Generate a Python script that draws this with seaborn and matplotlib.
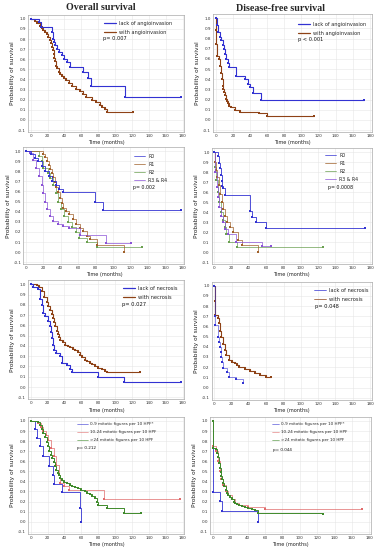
import matplotlib
matplotlib.use("Agg")
import matplotlib.pyplot as plt
import seaborn as sns
from matplotlib.lines import Line2D

# ---------------- data ----------------
# Panel 1: overall survival, angioinvasion
os_angio_lack_t = [0, 10, 12, 25, 26, 28, 29, 31, 34, 37, 40, 43, 46, 62, 68, 71, 112, 178]
os_angio_lack_s = [1.0, 0.97, 0.92, 0.87, 0.8, 0.77, 0.74, 0.7, 0.67, 0.64, 0.6, 0.57, 0.52, 0.47, 0.41, 0.34, 0.23, 0.23]
os_angio_with_t = [0, 5, 8, 11, 13, 15, 17, 19, 21, 23, 24, 25, 26, 27, 28, 29, 30, 31, 33, 35, 37, 39, 42, 45, 49, 54, 58, 62, 66, 72, 77, 82, 85, 88, 90, 121]
os_angio_with_s = [1.0, 0.98, 0.96, 0.93, 0.91, 0.89, 0.87, 0.85, 0.82, 0.79, 0.76, 0.72, 0.69, 0.65, 0.61, 0.58, 0.53, 0.51, 0.47, 0.45, 0.43, 0.41, 0.39, 0.36, 0.34, 0.31, 0.29, 0.26, 0.23, 0.2, 0.18, 0.15, 0.13, 0.11, 0.08, 0.08]

# Panel 2: disease-free survival, angioinvasion
dfs_angio_lack_t = [0, 1, 3, 5, 6, 9, 10, 11, 12, 14, 16, 24, 34, 38, 40, 44, 53, 173]
dfs_angio_lack_s = [1.0, 0.93, 0.87, 0.82, 0.79, 0.74, 0.7, 0.65, 0.6, 0.56, 0.52, 0.43, 0.4, 0.35, 0.32, 0.26, 0.2, 0.2]
dfs_angio_with_t = [0, 0.3, 0.6, 1, 4, 5, 6, 7, 8, 9, 10, 11, 12, 13, 14, 15, 16, 18, 23, 28, 50, 60, 115]
dfs_angio_with_s = [1.0, 0.88, 0.75, 0.63, 0.6, 0.53, 0.46, 0.4, 0.33, 0.3, 0.27, 0.24, 0.21, 0.19, 0.17, 0.15, 0.14, 0.13, 0.1, 0.08, 0.065, 0.04, 0.04]

# Panel 3: overall survival, resection
os_r0_t = [0, 6, 10, 14, 18, 22, 26, 30, 34, 38, 43, 79, 88, 178]
os_r0_s = [1.0, 0.97, 0.93, 0.9, 0.85, 0.8, 0.75, 0.7, 0.66, 0.62, 0.59, 0.5, 0.42, 0.42]
os_r1_t = [0, 20, 22, 24, 26, 28, 30, 31, 33, 35, 37, 39, 41, 43, 46, 49, 54, 58, 62, 66, 70, 74, 81, 112]
os_r1_s = [1.0, 0.97, 0.94, 0.9, 0.86, 0.82, 0.78, 0.74, 0.69, 0.64, 0.59, 0.54, 0.49, 0.44, 0.41, 0.38, 0.33, 0.28, 0.24, 0.21, 0.16, 0.13, 0.07, 0.0]
os_r2_t = [0, 15, 18, 20, 25, 28, 31, 34, 37, 40, 44, 48, 53, 58, 61, 70, 81, 133]
os_r2_s = [1.0, 0.95, 0.9, 0.83, 0.78, 0.73, 0.66, 0.58, 0.5, 0.43, 0.36, 0.3, 0.25, 0.2, 0.14, 0.1, 0.05, 0.05]
os_r34_t = [0, 5, 8, 12, 15, 18, 20, 22, 24, 28, 31, 37, 43, 49, 62, 92, 121]
os_r34_s = [1.0, 0.98, 0.91, 0.83, 0.75, 0.66, 0.58, 0.5, 0.43, 0.36, 0.31, 0.28, 0.26, 0.24, 0.17, 0.09, 0.09]

# Panel 4: disease-free survival, resection
dfs_r0_t = [0, 4, 6, 7, 8, 8.5, 9, 10, 12, 41, 44, 48, 60, 174]
dfs_r0_s = [1.0, 0.96, 0.89, 0.84, 0.77, 0.71, 0.66, 0.64, 0.57, 0.41, 0.35, 0.3, 0.24, 0.24]
dfs_r1_t = [0, 1, 2, 3, 5, 7, 8.5, 10, 12, 15, 18, 22, 27, 32, 51]
dfs_r1_s = [1.0, 0.9, 0.82, 0.75, 0.67, 0.58, 0.5, 0.43, 0.36, 0.3, 0.25, 0.2, 0.12, 0.07, 0.0]
dfs_r2_t = [0, 1, 2, 4, 6, 8, 10, 12, 14, 17, 26, 126]
dfs_r2_s = [1.0, 0.85, 0.72, 0.6, 0.5, 0.4, 0.32, 0.25, 0.18, 0.1, 0.05, 0.05]
dfs_r34_t = [0, 1, 3, 4, 6, 8, 10, 12, 16, 25, 55, 66]
dfs_r34_s = [1.0, 0.8, 0.65, 0.55, 0.45, 0.36, 0.3, 0.23, 0.18, 0.1, 0.06, 0.06]

# Panel 5: overall survival, necrosis
os_nec_lack_t = [0, 3, 9, 11, 13, 15, 17, 21, 23, 24, 25, 26, 28, 30, 35, 37, 43, 47, 49, 80, 111, 178]
os_nec_lack_s = [1.0, 0.97, 0.95, 0.86, 0.8, 0.72, 0.69, 0.64, 0.59, 0.54, 0.48, 0.41, 0.36, 0.33, 0.3, 0.23, 0.21, 0.18, 0.15, 0.1, 0.05, 0.05]
os_nec_with_t = [0, 8, 10, 13, 16, 19, 21, 23, 25, 26, 28, 29, 31, 32, 34, 35, 38, 41, 44, 47, 50, 53, 56, 58, 61, 64, 67, 70, 73, 76, 80, 84, 88, 90, 130]
os_nec_with_s = [1.0, 0.99, 0.97, 0.93, 0.88, 0.83, 0.79, 0.75, 0.71, 0.67, 0.63, 0.59, 0.55, 0.52, 0.49, 0.46, 0.44, 0.41, 0.4, 0.39, 0.37, 0.36, 0.34, 0.31, 0.29, 0.26, 0.25, 0.23, 0.22, 0.2, 0.19, 0.18, 0.16, 0.15, 0.15]

# Panel 6: disease-free survival, necrosis
dfs_nec_lack_t = [0, 0.5, 1, 4, 6, 7, 7.5, 8, 9, 10, 15, 17, 25, 33]
dfs_nec_lack_s = [1.0, 0.7, 0.61, 0.5, 0.45, 0.4, 0.35, 0.3, 0.25, 0.19, 0.15, 0.1, 0.08, 0.04]
dfs_nec_with_t = [0, 0.5, 1, 4, 6, 7, 8, 10, 12, 14, 17, 20, 24, 26, 28, 35, 41, 47, 53, 60, 66]
dfs_nec_with_s = [1.0, 0.85, 0.71, 0.68, 0.63, 0.56, 0.5, 0.43, 0.37, 0.32, 0.27, 0.25, 0.24, 0.22, 0.2, 0.18, 0.16, 0.14, 0.12, 0.1, 0.1]

# Panel 7: overall survival, mitotic figures
os_mit_09_t = [0, 5, 8, 11, 14, 22, 26, 28, 37, 58, 60]
os_mit_09_s = [1.0, 0.92, 0.83, 0.75, 0.65, 0.55, 0.46, 0.37, 0.29, 0.14, 0.0]
os_mit_1024_t = [0, 9, 12, 15, 18, 21, 24, 27, 30, 33, 35, 40, 45, 87, 177]
os_mit_1024_s = [1.0, 0.98, 0.94, 0.9, 0.86, 0.81, 0.73, 0.65, 0.56, 0.46, 0.38, 0.35, 0.31, 0.22, 0.22]
os_mit_24_t = [0, 9, 11, 13, 15, 17, 19, 21, 22, 24, 25, 27, 29, 30, 32, 33, 35, 37, 40, 43, 46, 49, 53, 56, 60, 64, 67, 70, 73, 76, 78, 80, 90, 111, 131]
os_mit_24_s = [1.0, 0.99, 0.96, 0.92, 0.88, 0.84, 0.79, 0.75, 0.7, 0.66, 0.63, 0.59, 0.55, 0.51, 0.48, 0.46, 0.43, 0.41, 0.39, 0.38, 0.36, 0.35, 0.34, 0.33, 0.31, 0.3, 0.28, 0.27, 0.25, 0.23, 0.2, 0.17, 0.14, 0.09, 0.09]

# Panel 8: disease-free survival, mitotic figures
dfs_mit_09_t = [0, 0.5, 8, 11, 52]
dfs_mit_09_s = [1.0, 0.29, 0.21, 0.11, 0.0]
dfs_mit_1024_t = [0, 0.5, 4, 6, 8, 10, 12, 15, 18, 22, 26, 30, 40, 60, 172]
dfs_mit_1024_s = [1.0, 0.75, 0.7, 0.6, 0.5, 0.42, 0.36, 0.3, 0.26, 0.22, 0.19, 0.17, 0.15, 0.13, 0.13]
dfs_mit_24_t = [0, 0.5, 4, 5, 6, 7, 8, 9, 10, 11, 12, 13, 15, 17, 18, 20, 22, 24, 26, 28, 30, 34, 37, 41, 45, 49, 52, 127]
dfs_mit_24_s = [1.0, 0.73, 0.72, 0.68, 0.64, 0.58, 0.53, 0.49, 0.45, 0.42, 0.38, 0.35, 0.31, 0.28, 0.26, 0.24, 0.22, 0.2, 0.19, 0.18, 0.17, 0.16, 0.15, 0.14, 0.13, 0.12, 0.09, 0.08]

angio_labels = ["lack of angioinvasion", "with angioinvasion"]
r_labels = ["R0", "R1", "R2", "R3 & R4"]
nec_labels = ["lack of necrosis", "with necrosis"]
mit_labels = ["0-9 mitotic figures per 10 HPF*", "10-24 mitotic figures per 10 HPF", ">24 mitotic figures per 10 HPF"]
p_values = ["p= 0.007", "p < 0.001", "p= 0.002", "p= 0.0008", "p= 0.027", "p= 0.048", "p= 0.212", "p= 0.044"]
x_ticks = [0, 20, 40, 60, 80, 100, 120, 140, 160, 180]
y_ticks = [-0.1, 0.0, 0.1, 0.2, 0.3, 0.4, 0.5, 0.6, 0.7, 0.8, 0.9, 1.0]

# ---------------- style ----------------
BLUE = "#3232d2"
BROWN = "#8e4216"
GREEN = "#3e8a2a"
VIOLET = "#8a52d6"
RED = "#e06a6a"
RBROWN = "#a0602a"
RGREEN = "#6aa050"

sns.set_style("whitegrid")
plt.rcParams["font.family"] = ["DejaVu Sans"]

W, H = 381, 550
fig = plt.figure(figsize=(W / 100, H / 100), dpi=100)
XL = (-3, 182)
YL = (-0.12, 1.04)


def place(x0, x180, y1, ym1):
    kx = (x180 - x0) / 180.0
    ky = (ym1 - y1) / 1.1
    left = x0 + XL[0] * kx
    right = x0 + XL[1] * kx
    top = y1 - (YL[1] - 1.0) * ky
    bottom = ym1 + (-0.1 - YL[0]) * ky
    return [left / W, 1 - bottom / H, (right - left) / W, (bottom - top) / H]


def km(ax, t, s, color, lw=0.8, ms=1.9):
    sns.lineplot(x=t, y=s, ax=ax, drawstyle="steps-post", color=color, lw=lw,
                 marker="s", markersize=ms, markeredgewidth=0,
                 estimator=None, sort=False, errorbar=None)


def style(ax):
    ax.set_xlim(*XL)
    ax.set_ylim(*YL)
    ax.set_xticks(x_ticks)
    ax.set_yticks(y_ticks)
    ax.set_yticklabels([f"{v:.1f}" for v in y_ticks])
    ax.tick_params(labelsize=3.0, length=0, pad=1.5, colors="#333333")
    ax.grid(True, color="#e6e6e6", lw=0.4)
    for sp in ax.spines.values():
        sp.set_color("#aaaaaa")
        sp.set_linewidth(0.5)
    ax.set_ylabel("Probability of survival", fontsize=4.2, labelpad=2, color="#222222")
    ax.set_xlabel("Time (months)", fontsize=3.6, labelpad=1.5, color="#222222")


def legend(ax, colors, labels, hx, hy, ptext, px, py, lw=0.9, fs=3.6, sp=0.75, hl=2.4):
    handles = [Line2D([0], [0], color=c, lw=lw) for c in colors]
    ax.legend(handles, labels, loc="upper left", bbox_to_anchor=(hx / W, 1 - hy / H),
              bbox_transform=fig.transFigure, frameon=False, fontsize=fs,
              handlelength=hl, handletextpad=0.6, labelspacing=sp, borderpad=0,
              borderaxespad=0)
    fig.text(px / W, 1 - py / H, ptext, fontsize=fs, va="center", ha="left", color="#111111")


# Panel 1
ax1 = fig.add_axes(place(30.7, 182.7, 18.8, 130.0))
km(ax1, os_angio_with_t, os_angio_with_s, BROWN)
km(ax1, os_angio_lack_t, os_angio_lack_s, BLUE)
style(ax1)
legend(ax1, [BLUE, BROWN], angio_labels, 104, 21, p_values[0], 103, 38.5)

# Panel 2
ax2 = fig.add_axes(place(215.7, 370.0, 18.3, 130.0))
km(ax2, dfs_angio_with_t, dfs_angio_with_s, BROWN)
km(ax2, dfs_angio_lack_t, dfs_angio_lack_s, BLUE)
style(ax2)
legend(ax2, [BLUE, BROWN], angio_labels, 298, 22, p_values[1], 298, 39.5)

# Panel 3
ax3 = fig.add_axes(place(26.0, 182.7, 151.0, 262.3))
km(ax3, os_r2_t, os_r2_s, RGREEN, lw=0.5)
km(ax3, os_r1_t, os_r1_s, RBROWN, lw=0.5)
km(ax3, os_r34_t, os_r34_s, VIOLET, lw=0.5)
km(ax3, os_r0_t, os_r0_s, BLUE, lw=0.6)
style(ax3)
legend(ax3, [BLUE, RBROWN, RGREEN, VIOLET], r_labels, 134, 153.5, p_values[2], 133, 188,
       lw=0.5, fs=3.4, sp=0.68)

# Panel 4
ax4 = fig.add_axes(place(214.3, 370.0, 152.3, 262.0))
km(ax4, dfs_r2_t, dfs_r2_s, RGREEN, lw=0.5)
km(ax4, dfs_r1_t, dfs_r1_s, RBROWN, lw=0.5)
km(ax4, dfs_r34_t, dfs_r34_s, VIOLET, lw=0.5)
km(ax4, dfs_r0_t, dfs_r0_s, BLUE, lw=0.6)
style(ax4)
legend(ax4, [BLUE, RBROWN, RGREEN, VIOLET], r_labels, 325, 152.5, p_values[3], 328, 187,
       lw=0.5, fs=3.4, sp=0.65)

# Panel 5
ax5 = fig.add_axes(place(30.7, 182.7, 284.3, 397.3))
km(ax5, os_nec_with_t, os_nec_with_s, BROWN)
km(ax5, os_nec_lack_t, os_nec_lack_s, BLUE)
style(ax5)
legend(ax5, [BLUE, BROWN], nec_labels, 123, 286, p_values[4], 122, 304.5, fs=3.7)

# Panel 6
ax6 = fig.add_axes(place(214.3, 370.0, 285.7, 397.7))
km(ax6, dfs_nec_with_t, dfs_nec_with_s, BROWN)
km(ax6, dfs_nec_lack_t, dfs_nec_lack_s, BLUE, lw=0.4)
style(ax6)
legend(ax6, [BLUE, BROWN], nec_labels, 314, 288, p_values[5], 315, 306.5, lw=0.5, fs=3.7)

# Panel 7
ax7 = fig.add_axes(place(30.7, 182.7, 421.0, 531.7))
km(ax7, os_mit_1024_t, os_mit_1024_s, RED, lw=0.5)
km(ax7, os_mit_09_t, os_mit_09_s, BLUE, lw=0.6)
km(ax7, os_mit_24_t, os_mit_24_s, GREEN, lw=0.7)
style(ax7)
legend(ax7, [BLUE, RED, GREEN], mit_labels, 77, 422.5, p_values[6], 77, 448, lw=0.4,
       fs=3.0, sp=0.95, hl=2.6)

# Panel 8
ax8 = fig.add_axes(place(212.7, 369.3, 421.0, 531.7))
km(ax8, dfs_mit_1024_t, dfs_mit_1024_s, RED, lw=0.5)
km(ax8, dfs_mit_09_t, dfs_mit_09_s, BLUE, lw=0.6)
km(ax8, dfs_mit_24_t, dfs_mit_24_s, GREEN, lw=0.7)
style(ax8)
legend(ax8, [BLUE, RED, GREEN], mit_labels, 272, 422.5, p_values[7], 273, 450, lw=0.4,
       fs=3.0, sp=0.95, hl=1.6)

# Column titles
fig.text(101 / W, 1 - 8 / H, "Overall survival", fontsize=7.2, fontweight="bold",
         family="Liberation Serif", ha="center", va="center")
fig.text(281 / W, 1 - 8.5 / H, "Disease-free survival", fontsize=7.2, fontweight="bold",
         family="Liberation Serif", ha="center", va="center")

fig.savefig("out.png", dpi=100, facecolor="white")
